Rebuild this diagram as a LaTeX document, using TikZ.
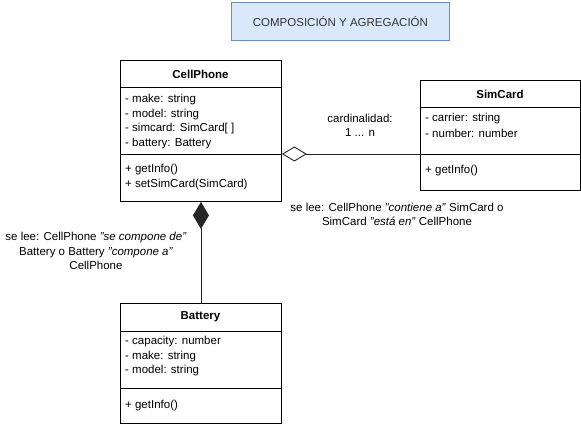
\documentclass[tikz,border=0pt]{standalone}
\usepackage{fontspec}
\setmainfont{Liberation Sans}
\usetikzlibrary{arrows.meta}
\definecolor{titlefill}{HTML}{DAE8FC}
\definecolor{titledraw}{HTML}{6C8EBF}
\definecolor{titletext}{HTML}{333333}
\begin{document}
\begin{tikzpicture}[x=1pt,y=-1pt,
  classbox/.style={draw=black,line width=0.9pt,fill=white,anchor=north west,inner sep=0pt},
  hdr/.style={font=\fontsize{11.5}{13}\selectfont\bfseries,inner sep=0pt,anchor=center},
  attr/.style={font=\fontsize{11.5}{13}\selectfont,inner sep=0pt,anchor=west},
  note/.style={font=\fontsize{11.5}{14.5}\selectfont,inner sep=0pt,align=center,anchor=center},
  sep/.style={line width=0.9pt},
  conn/.style={line width=0.9pt,draw=black!85}]
\useasboundingbox (0,0) rectangle (581,427);
% title
\node[draw=titledraw,fill=titlefill,line width=0.9pt,minimum width=218,minimum height=38,anchor=north west,inner sep=0pt,
  font=\fontsize{11.5}{13}\selectfont,text=titletext] (title) at (231,2) {COMPOSICIÓN Y AGREGACIÓN};
% CellPhone
\node[classbox,minimum width=161,minimum height=141] (cp) at (120,60) {};
\draw[sep] (120,87) -- (281,87);
\draw[sep] (120,154) -- (281,154);
\node[hdr] (cph) at (200.5,74) {CellPhone};
\node[attr] (cpa1) at (125,100) {- make: string};
\node[attr] (cpa2) at (125,114.5) {- model: string};
\node[attr] (cpa3) at (125,129) {- simcard: SimCard[ ]};
\node[attr] (cpa4) at (125,143.5) {- battery: Battery};
\node[attr] (cpm1) at (125,170) {+ getInfo()};
\node[attr] (cpm2) at (125,185) {+ setSimCard(SimCard)};
% SimCard
\node[classbox,minimum width=160,minimum height=110] (sc) at (420,80) {};
\draw[sep] (420,107) -- (580,107);
\draw[sep] (420,154) -- (580,154);
\node[hdr] (sch) at (500,94) {SimCard};
\node[attr] (sca1) at (425,118.5) {- carrier: string};
\node[attr] (sca2) at (425,133) {- number: number};
\node[attr] (scm1) at (425,171) {+ getInfo()};
% Battery
\node[classbox,minimum width=161,minimum height=120] (bat) at (120,303) {};
\draw[sep] (120,331) -- (281,331);
\draw[sep] (120,388) -- (281,388);
\node[hdr] (bath) at (200.5,317) {Battery};
\node[attr] (bata1) at (125,342) {- capacity: number};
\node[attr] (bata2) at (125,356.5) {- make: string};
\node[attr] (bata3) at (125,371) {- model: string};
\node[attr] (batm1) at (125,406) {+ getInfo()};
% connectors
\coordinate (aggEnd) at (cp.east |- 0,154);
\coordinate (aggStart) at (sc.west |- 0,154);
\draw[conn,-{Diamond[open,length=25,width=15,line width=0.9pt]}] (aggStart) -- (aggEnd);
\draw[conn,-{Diamond[length=27,width=16]}] (bat.north) -- (cp.south);
% labels
\node[note] (card) at (360,125.5) {cardinalidad:\\1 ... n};
\node[note] (aggnote) at (397,214.5) {se lee: CellPhone \textit{"contiene a"} SimCard o\\SimCard \textit{"está en"} CellPhone};
\node[note] (compnote) at (96,251) {se lee: CellPhone \textit{"se compone de"}\\Battery o Battery \textit{"compone a"}\\CellPhone};
\end{tikzpicture}
\end{document}
